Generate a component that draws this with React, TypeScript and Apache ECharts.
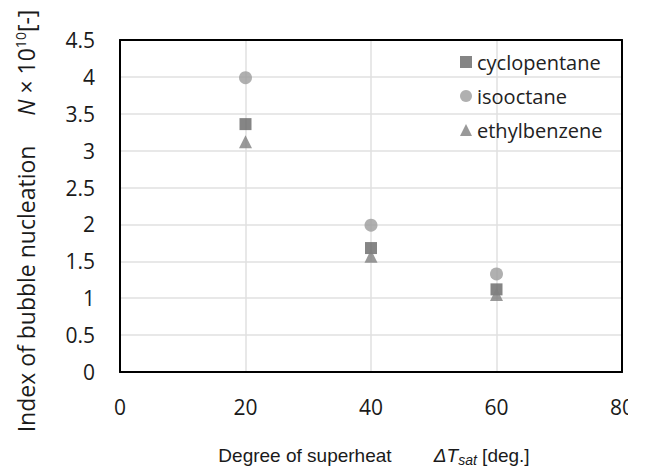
import React, { useEffect, useRef } from "react";
import * as echarts from "echarts";

const xValues = [20, 40, 60];
const cyclopentane = [3.36, 1.68, 1.12];
const isooctane = [3.99, 1.99, 1.33];
const ethylbenzene = [3.12, 1.57, 1.05];
const seriesNames = ["cyclopentane", "isooctane", "ethylbenzene"];

const pairs = (ys: number[]) => xValues.map((x, i) => [x, ys[i]]);

export default function App() {
  const ref = useRef<HTMLDivElement>(null);
  useEffect(() => {
    if (!ref.current) return;
    const chart = echarts.init(ref.current, undefined, { renderer: "svg" });
    const tickFont = "Open Sans";
    const frameLine = { show: true, lineStyle: { color: "#000000", width: 2 } };
    chart.setOption({
      animation: false,
      backgroundColor: "#ffffff",
      grid: {
        left: 120,
        top: 40,
        right: 24,
        bottom: 98,
      },
      xAxis: [
        {
          type: "value",
          min: 0,
          max: 80,
          interval: 20,
          axisLine: { ...frameLine, onZero: false },
          axisTick: { show: false },
          splitLine: { show: true, lineStyle: { color: "#e0e0e0", width: 1.5 } },
          axisLabel: {
            margin: 24,
            fontSize: 21,
            fontFamily: tickFont,
            color: "#1a1a1a",
            showMaxLabel: true,
            showMinLabel: true,
          },
        },
        {
          type: "value",
          position: "top",
          min: 0,
          max: 80,
          interval: 20,
          axisLine: { ...frameLine, onZero: false },
          axisTick: { show: false },
          axisLabel: { show: false },
          splitLine: { show: false },
        },
      ],
      yAxis: [
        {
          type: "value",
          min: 0,
          max: 4.5,
          interval: 0.5,
          axisLine: { ...frameLine, onZero: false },
          axisTick: { show: false },
          splitLine: { show: true, lineStyle: { color: "#e0e0e0", width: 1.5 } },
          axisLabel: {
            margin: 25,
            fontSize: 21,
            fontFamily: tickFont,
            color: "#1a1a1a",
          },
        },
        {
          type: "value",
          position: "right",
          min: 0,
          max: 4.5,
          interval: 0.5,
          axisLine: { ...frameLine, onZero: false },
          axisTick: { show: false },
          axisLabel: { show: false },
          splitLine: { show: false },
        },
      ],
      legend: {
        orient: "vertical",
        left: 455,
        top: 47,
        itemWidth: 12,
        itemHeight: 12,
        itemGap: 14,
        itemTextGap: 12,
        data: [
          { name: seriesNames[0], icon: "rect" },
          { name: seriesNames[1], icon: "circle" },
          { name: seriesNames[2], icon: "triangle" },
        ],
        textStyle: { fontSize: 20, fontFamily: tickFont, color: "#222222", lineHeight: 20 },
      },
      series: [
        {
          name: seriesNames[0],
          type: "scatter",
          symbol: "rect",
          symbolSize: 12,
          itemStyle: { color: "#666666" },
          data: pairs(cyclopentane),
        },
        {
          name: seriesNames[1],
          type: "scatter",
          symbol: "circle",
          symbolSize: 13,
          itemStyle: { color: "#9c9c9c" },
          data: pairs(isooctane),
        },
        {
          name: seriesNames[2],
          type: "scatter",
          symbol: "triangle",
          symbolSize: 13,
          itemStyle: { color: "#7f7f7f" },
          data: pairs(ethylbenzene),
        },
      ],
      graphic: [
        {
          type: "rect",
          z: 100,
          shape: { x: 628, y: 388, width: 30, height: 40 },
          style: { fill: "#ffffff" },
        },
        {
          type: "text",
          z: 100,
          x: 26,
          y: 221,
          rotation: Math.PI / 2,
          style: {
            text: "{a|Index of bubble nucleation}     {i|N}{a| × 10}{s|10}{a|[-]}",
            textAlign: "center",
            textVerticalAlign: "middle",
            fill: "#1a1a1a",
            rich: {
              a: { fontSize: 23, fontFamily: tickFont, fill: "#1a1a1a", lineHeight: 30, verticalAlign: "middle" },
              i: { fontSize: 23, fontFamily: tickFont, fontStyle: "italic", fill: "#1a1a1a", lineHeight: 30, verticalAlign: "middle" },
              s: { fontSize: 14, fontFamily: tickFont, fill: "#1a1a1a", lineHeight: 30, verticalAlign: "top", padding: [2, 0, 0, 0] },
            },
            font: "23px Open Sans",
          },
        },
        {
          type: "text",
          z: 100,
          x: 374,
          y: 455,
          style: {
            text: "{a|Degree of superheat        }{i|ΔT}{s|sat}{a| [deg.]}",
            textAlign: "center",
            textVerticalAlign: "middle",
            fill: "#1a1a1a",
            rich: {
              a: { fontSize: 19, fontFamily: "Liberation Sans", fill: "#1a1a1a", lineHeight: 26, verticalAlign: "middle" },
              i: { fontSize: 19, fontFamily: "Liberation Sans", fontStyle: "italic", fill: "#1a1a1a", lineHeight: 26, verticalAlign: "middle" },
              s: { fontSize: 14, fontFamily: "Liberation Sans", fontStyle: "italic", fill: "#1a1a1a", lineHeight: 26, verticalAlign: "bottom", padding: [0, 0, 1, 0] },
            },
            font: "19px Liberation Sans",
          },
        },
      ],
    });
    return () => chart.dispose();
  }, []);
  return <div ref={ref} style={{ width: 646, height: 470, position: "absolute", left: 0, top: 0 }} />;
}
